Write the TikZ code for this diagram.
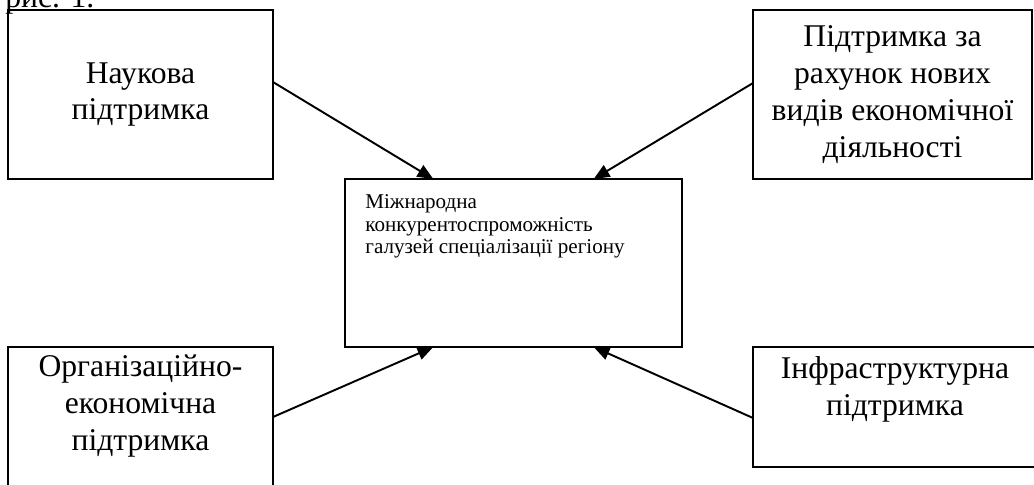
\documentclass[tikz,border=0pt]{standalone}
\usepackage{fontspec}
\setmainfont{Liberation Serif}
\usepackage{tikz}
\usetikzlibrary{calc,arrows.meta,positioning}
\tikzstyle{box} = [rectangle, draw=black, line width=1.1pt, inner sep=0pt, outer sep=0pt, align=center, font=\fontsize{18}{21}\selectfont]
\tikzstyle{txt} = [inner sep=0pt, align=center, font=\fontsize{18}{21}\selectfont]
\tikzstyle{arrow} = [line width=1.1pt,-{Triangle[length=9pt,width=7.5pt]}]

\begin{document}
\begin{tikzpicture}[x=0.02cm,y=-0.02cm]
	%% page frame (pixel grid of the scan)
	\useasboundingbox (0,0) rectangle (1034,484);

	%% caption, cut by the top edge
	\node[anchor=base west, inner sep=0pt, font=\fontsize{18}{21}\selectfont] (ris) at (5,7) {рис. 1.};

	%% centre box
	\node[box, minimum width=6.74cm, minimum height=3.36cm] (centr) at (513.5,263) {};
	\node[anchor=north west, inner sep=0pt, align=left, font=\fontsize{12}{13}\selectfont] (centrtxt) at (365,194)
	  {Міжнародна\\конкурентоспроможність\\галузей спеціалізації регіону};

	%% upper boxes
	\node[box, minimum width=5.3cm, minimum height=3.38cm] (nauka) at (140.5,94.5) {Наукова\\підтримка};
	\node[box, minimum width=5.58cm, minimum height=3.38cm] (vydy) at (892.5,94.5)
	  {Підтримка за\\рахунок нових\\видів економічної\\діяльності};

	%% lower boxes (run off the page)
	\node[box, minimum width=5.3cm, minimum height=3.2cm] (org) at (140.5,427) {};
	\node[txt] (orgtxt) at (140.5,406) {Організаційно-\\економічна\\підтримка};
	\node[box, minimum width=5.74cm, minimum height=2.4cm] (infra) at (896.5,407) {};
	\node[txt] (infratxt) at (895,389) {Інфраструктурна\\підтримка};

	%% points where the arrows meet the centre box
	\coordinate (c1) at ($(centr.north west)!0.262!(centr.north east)$);
	\coordinate (c2) at ($(centr.north west)!0.738!(centr.north east)$);
	\coordinate (c3) at ($(centr.south west)!0.262!(centr.south east)$);
	\coordinate (c4) at ($(centr.south west)!0.738!(centr.south east)$);

	\draw[arrow] ([yshift=0.25cm]nauka.east) -- (c1);
	\draw[arrow] ([yshift=0.23cm]vydy.west) -- (c2);
	\draw[arrow] ([yshift=0.2cm]org.east) -- (c3);
	\draw[arrow] ([yshift=-0.22cm]infra.west) -- (c4);
\end{tikzpicture}
\end{document}
